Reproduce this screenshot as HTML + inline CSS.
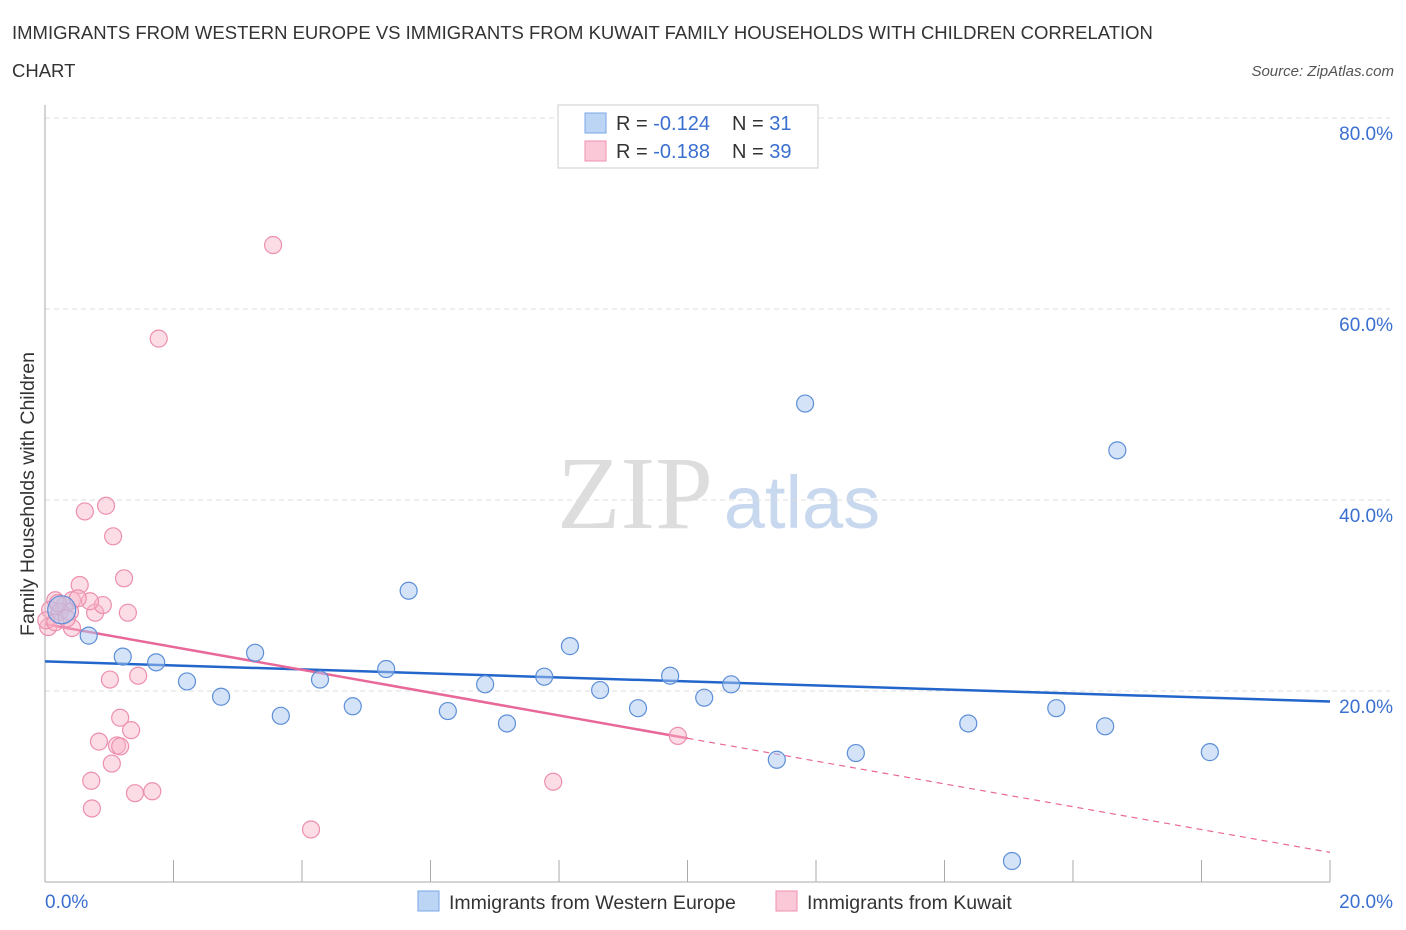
<!DOCTYPE html>
<html><head><meta charset="utf-8"><style>
body{margin:0;background:#fff;font-family:"Liberation Sans",sans-serif;}
svg{display:block}
</style></head><body>
<svg id="chart" width="1406" height="930" xmlns="http://www.w3.org/2000/svg">
<text x="12" y="39" font-size="18.5" fill="#333">IMMIGRANTS FROM WESTERN EUROPE VS IMMIGRANTS FROM KUWAIT FAMILY HOUSEHOLDS WITH CHILDREN CORRELATION</text>
<text x="12" y="77" font-size="18.5" fill="#333">CHART</text>
<text x="1394" y="76" font-size="15" fill="#555" font-style="italic" text-anchor="end">Source: ZipAtlas.com</text>
<g>
<text x="635" y="528" font-size="104" fill="#ddd" font-family="Liberation Serif, serif" text-anchor="middle">ZIP</text>
<text x="802" y="528" font-size="74" fill="#c8d8ee" text-anchor="middle">atlas</text>
</g>
<g id="grid"></g>
<g id="axes"></g>
<g id="lines"></g>
<g id="points"></g>
<text transform="translate(34,494) rotate(-90)" font-size="19.5" fill="#333" text-anchor="middle">Family Households with Children</text>
<g>
<rect x="558" y="105" width="260" height="63" fill="#fff" stroke="#ccc"/>
<rect x="585" y="113" width="21" height="20" fill="#bcd5f5" stroke="#7aa6e6"/>
<rect x="585" y="141" width="21" height="20" fill="#fbc8d8" stroke="#ef8fb0"/>
<text x="616" y="130" font-size="20" fill="#333">R = <tspan fill="#3a6fd0">-0.124</tspan></text>
<text x="732" y="130" font-size="20" fill="#333">N = <tspan fill="#3a6fd0"> 31</tspan></text>
<text x="616" y="158" font-size="20" fill="#333">R = <tspan fill="#3a6fd0">-0.188</tspan></text>
<text x="732" y="158" font-size="20" fill="#333">N = <tspan fill="#3a6fd0">39</tspan></text>
</g>
<g>
<rect x="418" y="891" width="21" height="20" fill="#bcd5f5" stroke="#7aa6e6"/>
<text x="449" y="909" font-size="19.5" fill="#333">Immigrants from Western Europe</text>
<rect x="776" y="891" width="21" height="20" fill="#fbc8d8" stroke="#ef8fb0"/>
<text x="807" y="909" font-size="19.5" fill="#333">Immigrants from Kuwait</text>
</g>
</svg>
<script>
const blueX=[0.26,0.68,1.21,1.73,2.21,2.74,3.27,3.67,4.28,4.79,5.31,5.66,6.27,6.85,7.19,7.77,8.17,8.64,9.23,9.73,10.26,10.68,11.39,11.83,12.62,14.37,15.74,16.50,16.69,18.13,15.05];
const blueY=[28.5,25.8,23.6,23.0,21.0,19.4,24.0,17.4,21.2,18.4,22.3,30.5,17.9,20.7,16.6,21.5,24.7,20.1,18.2,21.6,19.3,20.7,12.8,50.1,13.5,16.6,18.2,16.3,45.2,13.6,2.2];
const pinkX=[3.55,1.77,0.62,0.95,1.06,1.23,0.54,0.42,0.16,0.31,0.08,0.23,0.39,0.78,1.29,0.90,0.05,0.42,0.70,0.02,0.16,1.01,1.45,1.17,1.34,0.84,1.12,1.17,1.04,0.72,1.40,1.67,0.73,4.14,7.91,9.85,0.51,0.20,0.34];
const pinkY=[66.7,56.9,38.8,39.4,36.2,31.8,31.1,29.5,29.5,29.0,28.5,28.3,28.3,28.2,28.2,29.0,26.7,26.6,29.4,27.4,27.2,21.2,21.6,17.2,15.9,14.7,14.3,14.2,12.4,10.6,9.3,9.5,7.7,5.5,10.5,15.3,29.7,29.2,27.6];
const yTicks=[20,40,60,80];
const xTickLabels=["0.0%","20.0%"];
const blueTrend=[23.1,18.9];
const pinkTrend=[27.0,3.1];
const pinkSolidEnd=10;
const NS="http://www.w3.org/2000/svg";
const X0=45,X1=1330,Y0=882,YPER=(882-118)/80;
const sx=v=>X0+(X1-X0)*v/20, sy=v=>Y0-v*YPER;
function mk(tag,attrs,parent){const e=document.createElementNS(NS,tag);for(const k in attrs)e.setAttribute(k,attrs[k]);document.getElementById(parent).appendChild(e);return e;}
yTicks.forEach(t=>{
 const l=mk('line',{x1:X0,x2:X1+60,y1:sy(t),y2:sy(t),stroke:'#ddd','stroke-dasharray':'5,4'},'grid');
 
 
 const tx=mk('text',{x:1393,y:sy(t)+22,'font-size':19,fill:'#3a6fd0','text-anchor':'end'},'axes');
 tx.textContent=t.toFixed(1)+'%';
 
 
});
const ax=mk('line',{x1:X0,x2:X0,y1:105,y2:Y0,stroke:'#aaa'},'axes');


const xa=mk('line',{x1:X0,x2:X1,y1:Y0,y2:Y0,stroke:'#aaa'},'axes');


for(let i=0;i<=10;i++){const t=mk('line',{x1:sx(i*2),x2:sx(i*2),y1:Y0,y2:Y0-22,stroke:'#aaa'},'axes');
 
 }
[[0,45,'start'],[20,1393,'end']].forEach((d,i)=>{const t=mk('text',{x:d[1],y:908,'font-size':19,fill:'#3a6fd0','text-anchor':d[2]},'axes');t.textContent=xTickLabels[i];
 
 });
function pt(x,y,fill,stroke,r,name){const c=mk('circle',{cx:sx(x),cy:sy(y),r:r,fill:fill,stroke:stroke,'stroke-width':1.2},'points');
 
 }
pinkX.forEach((x,i)=>pt(x,pinkY[i],'rgba(248,180,200,0.45)','#ec8fae',8.5,'kuwait-point'));
blueX.forEach((x,i)=>pt(x,blueY[i],'rgba(170,200,240,0.5)','#5d8fd8',i===0?14:8.5,'western-europe-point'));
const bl=mk('line',{x1:sx(0),y1:sy(blueTrend[0]),x2:sx(20),y2:sy(blueTrend[1]),stroke:'#2266cc','stroke-width':2.5},'lines');


const pAt=x=>pinkTrend[0]+(pinkTrend[1]-pinkTrend[0])*x/20;
const pl=mk('line',{x1:sx(0),y1:sy(pinkTrend[0]),x2:sx(pinkSolidEnd),y2:sy(pAt(pinkSolidEnd)),stroke:'#e8689a','stroke-width':2.5},'lines');


const pd=mk('line',{x1:sx(pinkSolidEnd),y1:sy(pAt(pinkSolidEnd)),x2:sx(20),y2:sy(pinkTrend[1]),stroke:'#e8689a','stroke-width':1.2,'stroke-dasharray':'6,5'},'lines');


</script>
</body></html>
